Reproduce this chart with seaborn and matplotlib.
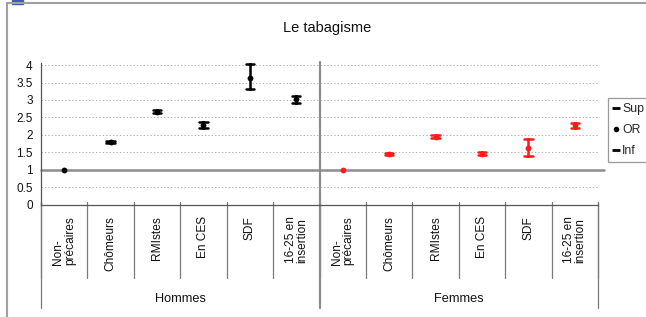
import numpy as np
import pandas as pd
import matplotlib
matplotlib.use("Agg")
import matplotlib.pyplot as plt
import matplotlib.transforms as mtransforms
from matplotlib.lines import Line2D
from matplotlib.patches import Rectangle
import seaborn as sns

# =====================================
# Data
# =====================================

categories = ["Non-\nprécaires", "Chômeurs", "RMIstes", "En CES", "SDF", "16-25 en\ninsertion"]
groups = ["Hommes", "Femmes"]

or_hommes = [1.00, 1.79, 2.67, 2.29, 3.62, 3.02]
inf_hommes = [1.00, 1.76, 2.62, 2.21, 3.31, 2.92]
sup_hommes = [1.00, 1.83, 2.72, 2.36, 4.02, 3.12]

or_femmes = [1.00, 1.44, 1.95, 1.46, 1.63, 2.28]
inf_femmes = [1.00, 1.41, 1.91, 1.42, 1.40, 2.20]
sup_femmes = [1.00, 1.48, 1.99, 1.50, 1.89, 2.35]

legend_labels = ["Sup", "OR", "Inf"]
yticks = [0, 0.5, 1, 1.5, 2, 2.5, 3, 3.5, 4]

# long table: one row per (inf, OR, sup) value, median of the three = OR
rows = []
for sexe, ors, infs, sups in [("Hommes", or_hommes, inf_hommes, sup_hommes),
                              ("Femmes", or_femmes, inf_femmes, sup_femmes)]:
    for cat, o, lo, hi in zip(categories, ors, infs, sups):
        key = sexe + "|" + cat
        for v in (lo, o, hi):
            rows.append({"key": key, "sexe": sexe, "value": v})
df = pd.DataFrame(rows)
order = [g + "|" + c for g in groups for c in categories]


def min_max(v):
    if v.max() > v.min():
        return v.min(), v.max()
    return np.nan, np.nan


# =====================================
# Figure
# =====================================

sns.set_theme(style="white")
plt.rcParams["font.family"] = ["Liberation Sans", "DejaVu Sans"]

W, H = 646, 317
fig = plt.figure(figsize=(W / 100, H / 100), dpi=100)


def fx(px):
    return px / W


def fy(py):
    return 1 - py / H


ax = fig.add_axes([fx(41), fy(204.7), fx(598) - fx(41), fy(63) - fy(204.7)])

sns.pointplot(
    data=df, x="key", y="value", hue="sexe", order=order,
    hue_order=groups, palette={"Hommes": "black", "Femmes": "#ff1a1a"},
    estimator="median", errorbar=min_max, linestyle="none",
    marker="o", markersize=4.2, markeredgewidth=0,
    capsize=0.18, err_kws={"linewidth": 1.8},
    dodge=False, legend=False, ax=ax,
)

ax.set_xlim(-0.5, 11.5)
ax.set_ylim(0, 4.06)
ax.set_xlabel("")
ax.set_ylabel("")
ax.set_xticks([])
ax.set_yticks(yticks)
ax.set_yticklabels([f"{v:g}" for v in yticks], fontsize=8.5, color="#111111")
ax.tick_params(axis="y", direction="out", length=4, width=0.8, color="#555555", pad=2)

for s in ["top", "right"]:
    ax.spines[s].set_visible(False)
ax.spines["left"].set_color("#555555")
ax.spines["bottom"].set_color("#555555")
ax.spines["left"].set_linewidth(0.9)
ax.spines["bottom"].set_linewidth(0.9)

# gridlines
for v in yticks:
    if v in (0, 1):
        continue
    ax.axhline(v, color="#b5b5b5", linestyle=(0, (1.5, 2)), linewidth=0.7, zorder=0)

# reference line at 1
ax.plot([0, 1.01], [1, 1], transform=ax.get_yaxis_transform(),
        color="#8c8c8c", linewidth=1.8, clip_on=False, zorder=1)

# dividers below the axis
tr = mtransforms.blended_transform_factory(ax.transData, fig.transFigure)
for b in np.arange(-0.5, 12, 1):
    ax.plot([b, b], [fy(202), fy(278)], transform=tr, color="#7a7a7a",
            linewidth=0.9, clip_on=False)
for b in [-0.5, 11.5]:
    ax.plot([b, b], [fy(202), fy(308)], transform=tr, color="#7a7a7a",
            linewidth=0.9, clip_on=False)
ax.plot([5.5, 5.5], [fy(62), fy(308)], transform=tr, color="#8c8c8c",
        linewidth=1.6, clip_on=False)

# category labels
for i, key in enumerate(order):
    label = key.split("|")[1]
    ax.text(i, fy(216), label, transform=tr, rotation=90, ha="center", va="top",
            multialignment="left", fontsize=8.6, linespacing=0.95, color="#111111")

# group labels
for j, g in enumerate(groups):
    ax.text(2.5 + 6 * j, fy(299), g, transform=tr, ha="center", va="center",
            fontsize=9.2, color="#111111")

# title
fig.text(fx(327), fy(28), "Le tabagisme", ha="center", va="center",
         fontsize=10.5, color="#111111")

# outer chart frame
fig.add_artist(Line2D([fx(6.5), fx(6.5)], [fy(3), 0], color="#a0a0a0", linewidth=1.5))
fig.add_artist(Line2D([fx(6.5), 1], [fy(3), fy(3)], color="#a0a0a0", linewidth=1.5))
fig.add_artist(Rectangle((fx(12), fy(4)), fx(11), 4 / H, color="#3a5bbf"))

# legend
handles = [
    Line2D([], [], color="black", marker="_", linestyle="none", markersize=6, markeredgewidth=2),
    Line2D([], [], color="black", marker="o", linestyle="none", markersize=4, markeredgewidth=0),
    Line2D([], [], color="black", marker="_", linestyle="none", markersize=6, markeredgewidth=2),
]
leg = fig.legend(handles, legend_labels, loc="upper left",
                 bbox_to_anchor=(fx(608), fy(98)), frameon=True, fancybox=False,
                 edgecolor="#808080", fontsize=8.8, handlelength=0.5,
                 handletextpad=0.25, labelspacing=0.75, borderpad=0.4,
                 borderaxespad=0)
leg.get_frame().set_linewidth(0.9)

plt.savefig("out.png", dpi=100)
plt.close()
